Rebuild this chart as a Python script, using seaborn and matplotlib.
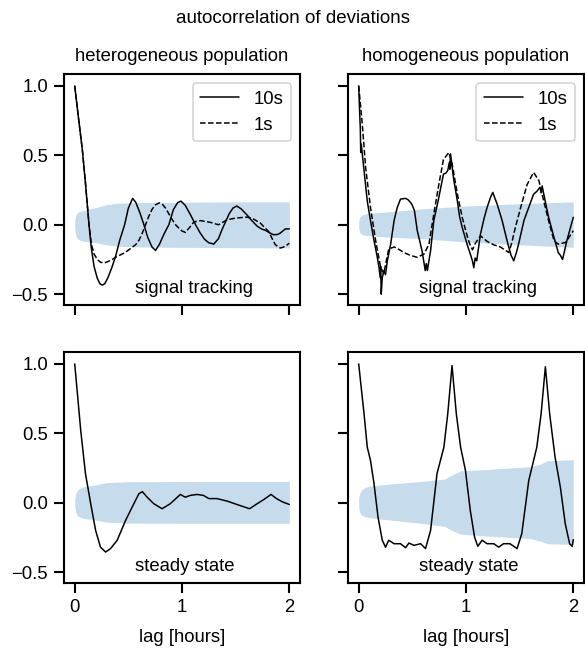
import matplotlib
matplotlib.use("Agg")
import matplotlib.pyplot as plt
import seaborn as sns

# ---------------- data: lag [hours] and autocorrelation values ----------------
# heterogeneous population, signal tracking
het_sig_lag_10s = [0, 0.035, 0.071, 0.1, 0.133, 0.155, 0.18, 0.21, 0.235, 0.257, 0.28, 0.31,
                   0.345, 0.38, 0.42, 0.465, 0.5, 0.54, 0.57, 0.61, 0.645, 0.68, 0.72, 0.753,
                   0.79, 0.83, 0.877, 0.92, 0.96, 0.99, 1.03, 1.08, 1.126, 1.17, 1.21, 1.25,
                   1.296, 1.34, 1.37, 1.405, 1.44, 1.475, 1.51, 1.55, 1.606, 1.65, 1.7, 1.74,
                   1.777, 1.82, 1.854, 1.89, 1.916, 1.963, 2.0]
het_sig_acf_10s = [1.0, 0.77, 0.54, 0.3, 0.0, -0.17, -0.3, -0.385, -0.425, -0.435, -0.425, -0.38,
                   -0.31, -0.23, -0.11, 0.0, 0.12, 0.19, 0.16, 0.08, 0.0, -0.09, -0.16, -0.185,
                   -0.14, -0.07, 0.0, 0.11, 0.16, 0.17, 0.14, 0.07, 0.0, -0.06, -0.105, -0.13,
                   -0.139, -0.1, -0.04, 0.02, 0.08, 0.12, 0.135, 0.115, 0.07, 0.03, -0.01, -0.03,
                   -0.04, -0.06, -0.072, -0.07, -0.06, -0.03, -0.03]
het_sig_lag_1s = [0, 0.035, 0.071, 0.1, 0.133, 0.155, 0.18, 0.21, 0.24, 0.273, 0.31, 0.35, 0.39,
                  0.428, 0.47, 0.505, 0.567, 0.6, 0.63, 0.66, 0.69, 0.72, 0.753, 0.79, 0.82,
                  0.846, 0.88, 0.909, 0.94, 0.97, 1.0, 1.03, 1.07, 1.11, 1.17, 1.265, 1.34,
                  1.42, 1.5, 1.6, 1.65, 1.73, 1.77, 1.807, 1.84, 1.87, 1.916, 1.963, 2.0]
het_sig_acf_1s = [1.0, 0.77, 0.54, 0.3, 0.0, -0.14, -0.21, -0.25, -0.27, -0.276, -0.265, -0.25,
                  -0.23, -0.216, -0.2, -0.18, -0.144, -0.11, -0.06, 0.0, 0.06, 0.11, 0.144, 0.158,
                  0.145, 0.12, 0.075, 0.036, 0.0, -0.024, -0.045, -0.055, -0.02, 0.02, 0.03,
                  0.017, 0.0, 0.036, 0.048, 0.055, 0.048, 0.012, -0.02, -0.048, -0.1, -0.144,
                  -0.168, -0.156, -0.132]

# homogeneous population, signal tracking
hom_sig_lag_10s = [0, 0.012, 0.015, 0.019, 0.024, 0.05, 0.08, 0.11, 0.143, 0.17, 0.19, 0.2, 0.205,
                   0.21, 0.22, 0.235, 0.25, 0.267, 0.298, 0.33, 0.345, 0.36, 0.39, 0.437, 0.46,
                   0.484, 0.5, 0.52, 0.546, 0.57, 0.59, 0.61, 0.62, 0.63, 0.64, 0.67, 0.7, 0.74,
                   0.79, 0.81, 0.83, 0.845, 0.85, 0.856, 0.87, 0.887, 0.92, 0.94, 0.965, 1.01,
                   1.04, 1.06, 1.073, 1.085, 1.1, 1.135, 1.17, 1.197, 1.23, 1.25, 1.27, 1.29,
                   1.337, 1.383, 1.42, 1.445, 1.47, 1.49, 1.54, 1.585, 1.63, 1.66, 1.69, 1.7,
                   1.71, 1.725, 1.77, 1.82, 1.86, 1.88, 1.9, 1.915, 1.94, 2.0]
hom_sig_acf_10s = [1.0, 0.75, 0.7, 0.52, 0.58, 0.39, 0.17, 0.03, -0.115, -0.22, -0.31, -0.38, -0.3,
                   -0.5, -0.38, -0.33, -0.36, -0.26, -0.14, 0.03, 0.08, 0.125, 0.185, 0.19, 0.18,
                   0.16, 0.14, 0.1, -0.043, -0.12, -0.187, -0.28, -0.33, -0.28, -0.33, -0.187,
                   0.03, 0.17, 0.365, 0.37, 0.39, 0.45, 0.4, 0.51, 0.42, 0.32, 0.17, 0.06, -0.02,
                   -0.14, -0.21, -0.26, -0.31, -0.24, -0.26, -0.067, 0.05, 0.125, 0.2, 0.233,
                   0.19, 0.15, 0.03, -0.115, -0.22, -0.26, -0.2, -0.14, 0.03, 0.125, 0.22, 0.24,
                   0.27, 0.23, 0.28, 0.22, 0.053, -0.09, -0.2, -0.22, -0.25, -0.2, -0.115, 0.053]
hom_sig_lag_1s = [0, 0.034, 0.065, 0.11, 0.158, 0.205, 0.235, 0.26, 0.28, 0.33, 0.38, 0.42, 0.48,
                  0.546, 0.61, 0.655, 0.7, 0.747, 0.79, 0.84, 0.87, 0.92, 0.965, 1.0, 1.03, 1.06,
                  1.09, 1.135, 1.197, 1.26, 1.32, 1.4, 1.43, 1.46, 1.51, 1.57, 1.63, 1.68, 1.725,
                  1.77, 1.82, 1.86, 1.93, 2.0]
hom_sig_acf_1s = [1.0, 0.72, 0.41, 0.125, -0.115, -0.31, -0.35, -0.25, -0.175, -0.16, -0.18, -0.2,
                  -0.22, -0.235, -0.21, -0.14, 0.077, 0.29, 0.47, 0.52, 0.44, 0.22, 0.053, -0.05,
                  -0.13, -0.18, -0.13, -0.08, -0.12, -0.145, -0.16, -0.2, -0.12, -0.02, 0.125,
                  0.29, 0.377, 0.317, 0.17, 0.03, -0.115, -0.14, -0.127, -0.043]

# heterogeneous population, steady state
het_ss_lag = [0, 0.056, 0.1, 0.149, 0.195, 0.24, 0.288, 0.334, 0.396, 0.474, 0.551, 0.598, 0.63,
              0.675, 0.737, 0.814, 0.89, 0.985, 1.03, 1.077, 1.14, 1.2, 1.25, 1.325, 1.42, 1.54,
              1.63, 1.7, 1.76, 1.83, 1.88, 1.94, 2.0]
het_ss_acf = [1.0, 0.52, 0.21, -0.007, -0.2, -0.32, -0.355, -0.33, -0.27, -0.127, -0.007, 0.065,
              0.08, 0.04, -0.007, -0.043, -0.007, 0.06, 0.04, 0.053, 0.06, 0.053, 0.03, 0.03,
              0.012, -0.02, -0.043, -0.007, 0.022, 0.06, 0.03, 0.005, -0.012]

# homogeneous population, steady state
hom_ss_lag = [0, 0.05, 0.08, 0.11, 0.143, 0.18, 0.22, 0.25, 0.28, 0.33, 0.39, 0.437, 0.468, 0.515,
              0.577, 0.623, 0.67, 0.73, 0.794, 0.83, 0.87, 0.91, 0.95, 0.995, 1.04, 1.08, 1.11,
              1.15, 1.197, 1.26, 1.305, 1.35, 1.41, 1.476, 1.52, 1.585, 1.66, 1.7, 1.74, 1.78,
              1.83, 1.88, 1.925, 1.966, 1.99, 2.0]
hom_ss_acf = [1.0, 0.64, 0.4, 0.305, 0.137, -0.103, -0.27, -0.32, -0.27, -0.295, -0.295, -0.324,
              -0.29, -0.307, -0.295, -0.33, -0.2, 0.21, 0.4, 0.64, 0.988, 0.64, 0.4, 0.233,
              -0.055, -0.247, -0.314, -0.27, -0.295, -0.295, -0.32, -0.295, -0.295, -0.33,
              -0.223, 0.16, 0.4, 0.64, 0.98, 0.64, 0.33, 0.11, -0.15, -0.295, -0.314, -0.266]

# shuffled-data envelopes (lower / upper bounds)
het_sig_band_lag = [0, 0.01, 0.03, 0.06, 0.1, 0.2, 0.3, 0.4, 0.6, 1.0, 1.5, 2.0]
het_sig_band_hi = [0.03, 0.07, 0.09, 0.1, 0.105, 0.125, 0.145, 0.155, 0.16, 0.162, 0.165, 0.165]
het_sig_band_lo = [-0.03, -0.08, -0.105, -0.115, -0.12, -0.13, -0.145, -0.155, -0.16, -0.163,
                   -0.165, -0.167]

hom_sig_band_lag = [0, 0.01, 0.03, 0.06, 0.1, 0.3, 0.6, 1.0, 1.5, 2.0]
hom_sig_band_hi = [0.025, 0.055, 0.07, 0.078, 0.083, 0.095, 0.115, 0.135, 0.152, 0.165]
hom_sig_band_lo = [-0.025, -0.055, -0.07, -0.076, -0.079, -0.09, -0.1, -0.125, -0.145, -0.162]

het_ss_band_lag = [0, 0.01, 0.03, 0.06, 0.1, 0.2, 0.3, 0.5, 1.0, 2.0]
het_ss_band_hi = [0.025, 0.07, 0.095, 0.11, 0.118, 0.13, 0.145, 0.152, 0.153, 0.153]
het_ss_band_lo = [-0.025, -0.07, -0.095, -0.108, -0.115, -0.125, -0.14, -0.147, -0.148, -0.148]

hom_ss_band_lag = [0, 0.01, 0.03, 0.06, 0.1, 0.3, 0.6, 0.8, 0.87, 0.95, 1.2, 1.6, 1.7, 1.76, 2.0]
hom_ss_band_hi = [0.03, 0.07, 0.095, 0.11, 0.12, 0.135, 0.155, 0.17, 0.2, 0.23, 0.24, 0.26, 0.28,
                  0.303, 0.31]
hom_ss_band_lo = [-0.03, -0.07, -0.09, -0.1, -0.108, -0.125, -0.15, -0.17, -0.2, -0.226, -0.24,
                  -0.258, -0.278, -0.295, -0.3]

column_titles = ["heterogeneous population", "homogeneous population"]
row_labels = ["signal tracking", "steady state"]
series_labels = ["10s", "1s"]
x_ticks = [0, 1, 2]
y_ticks = [-0.5, 0.0, 0.5, 1.0]

# ---------------- figure ----------------
sns.set_theme(style="ticks", context="notebook")
plt.rcParams["font.family"] = ["Liberation Sans", "DejaVu Sans"]
plt.rcParams.update({
    "axes.edgecolor": "black",
    "xtick.color": "black",
    "ytick.color": "black",
    "text.color": "black",
    "axes.labelcolor": "black",
})

DPI = 121
fig, axes = plt.subplots(2, 2, figsize=(585 / DPI, 649 / DPI), dpi=DPI,
                         sharex=True, sharey=True)
fig.subplots_adjust(left=0.1094, right=0.9983, top=0.886, bottom=0.1017,
                    wspace=0.203, hspace=0.2035)

band_color = "#1f77b4"

panels = [
    (axes[0, 0], (het_sig_band_lag, het_sig_band_lo, het_sig_band_hi),
     [(het_sig_lag_10s, het_sig_acf_10s, "-", series_labels[0]),
      (het_sig_lag_1s, het_sig_acf_1s, "--", series_labels[1])]),
    (axes[0, 1], (hom_sig_band_lag, hom_sig_band_lo, hom_sig_band_hi),
     [(hom_sig_lag_10s, hom_sig_acf_10s, "-", series_labels[0]),
      (hom_sig_lag_1s, hom_sig_acf_1s, "--", series_labels[1])]),
    (axes[1, 0], (het_ss_band_lag, het_ss_band_lo, het_ss_band_hi),
     [(het_ss_lag, het_ss_acf, "-", None)]),
    (axes[1, 1], (hom_ss_band_lag, hom_ss_band_lo, hom_ss_band_hi),
     [(hom_ss_lag, hom_ss_acf, "-", None)]),
]

for ax, (bx, blo, bhi), series in panels:
    ax.fill_between(bx, blo, bhi, color=band_color, alpha=0.25, lw=0, zorder=1)
    for lag, acf, ls, lab in series:
        sns.lineplot(x=lag, y=acf, ax=ax, color="black", linestyle=ls, linewidth=0.9,
                     estimator=None, sort=False, label=lab, legend=lab is not None,
                     zorder=3)

for ax in axes[0]:
    ax.legend(loc="upper right", fontsize=11, handlelength=2.1, frameon=True)

for ax, title in zip(axes[0], column_titles):
    ax.set_title(title, fontsize=11, pad=7.5)

for row, label in zip(axes, row_labels):
    for ax in row:
        ax.text(0.3, 0.05, label, transform=ax.transAxes, ha="left", va="baseline",
                fontsize=11)

for ax in axes.flat:
    ax.set_xlim(-0.1, 2.1)
    ax.set_ylim(-0.578, 1.086)
    ax.set_xticks(x_ticks)
    ax.set_yticks(y_ticks)
    ax.set_ylabel("")
    ax.set_xlabel("")
    ax.tick_params(labelsize=11)

for ax in axes[1]:
    ax.set_xlabel("lag [hours]", fontsize=11, labelpad=7.5)

fig.suptitle("autocorrelation of deviations", fontsize=11.2, y=0.985, va="top")

fig.savefig("out.png", dpi=DPI)
